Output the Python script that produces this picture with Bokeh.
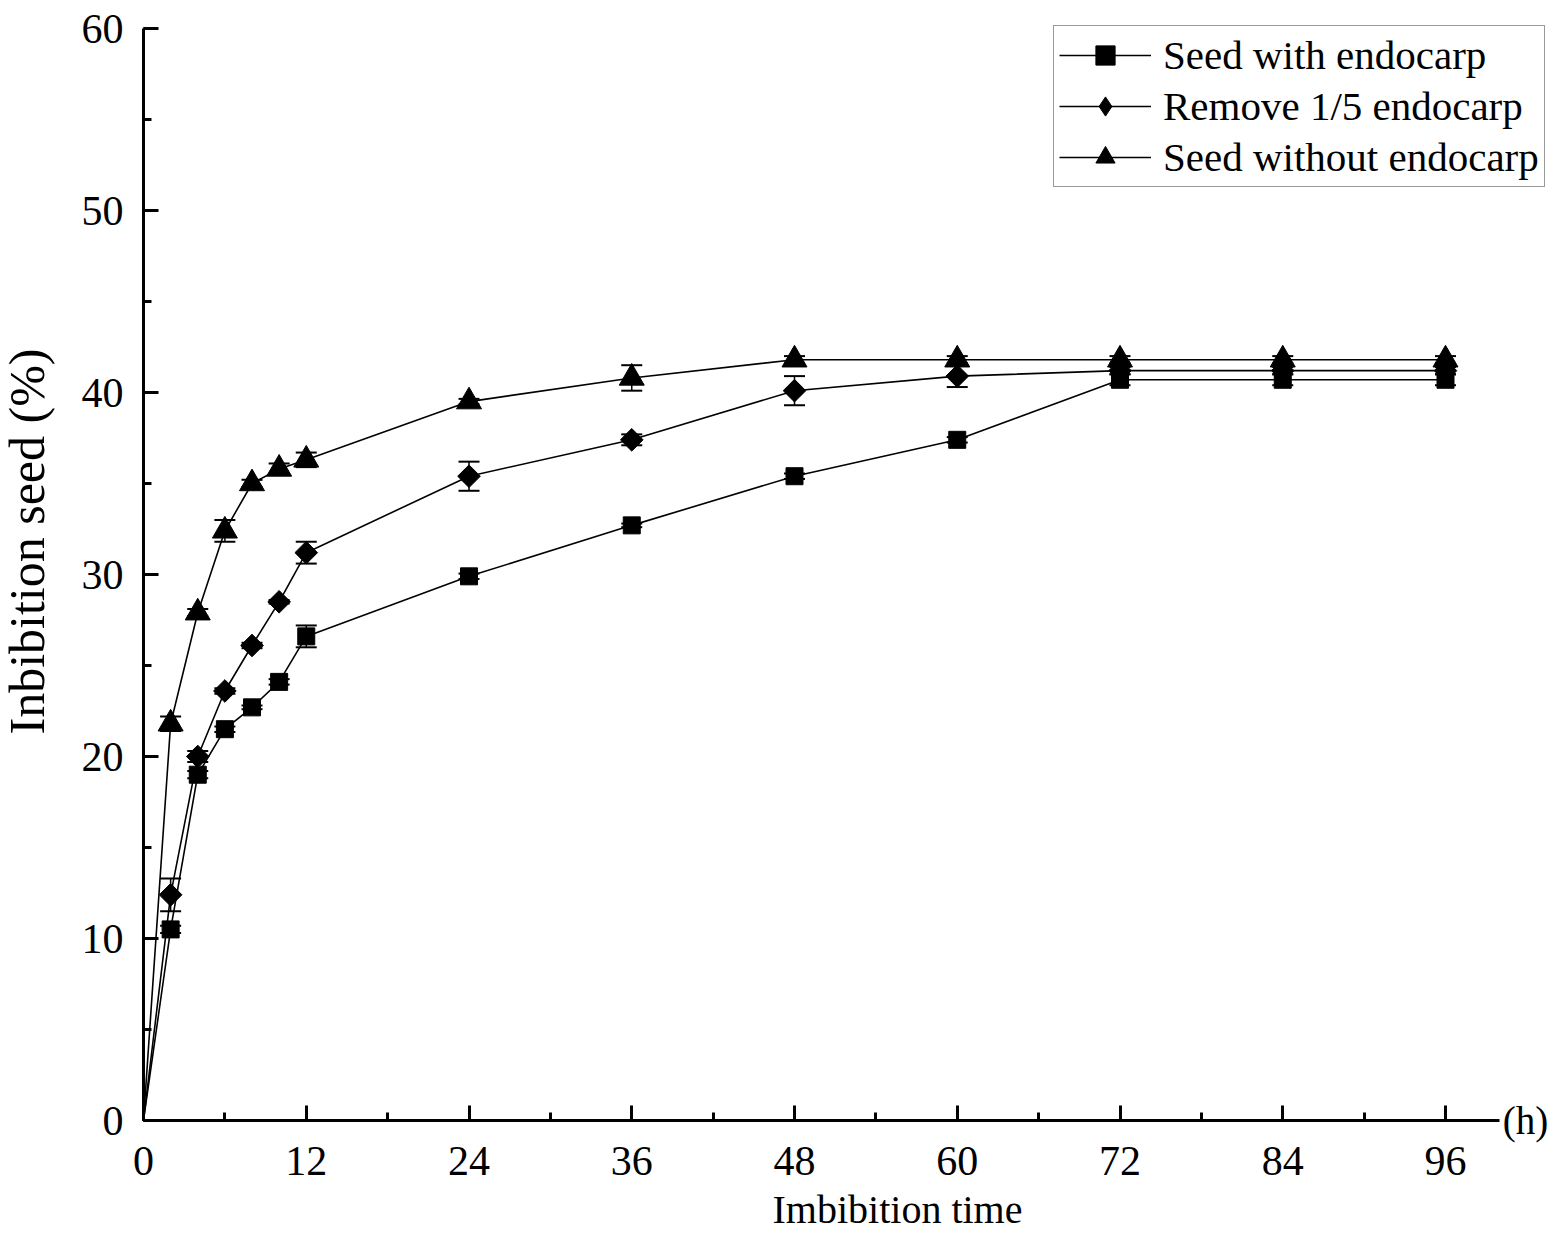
import math
from bokeh.plotting import figure
from bokeh.models import (Range1d, SingleIntervalTicker, Whisker, TeeHead, ColumnDataSource,
                          Legend, LegendItem, Label)
from bokeh.embed import file_html
from bokeh.resources import INLINE

hours = [0, 2, 4, 6, 8, 10, 12, 24, 36, 48, 60, 72, 84, 96]

with_endocarp = [0, 10.5, 19.0, 21.5, 22.7, 24.1, 26.6, 29.9, 32.7, 35.4, 37.4, 40.7, 40.7, 40.7]
with_endocarp_err = [0, 0.2, 0.2, 0.15, 0.1, 0.15, 0.6, 0.15, 0.1, 0.15, 0.15, 0.3, 0.3, 0.3]

remove_fifth = [0, 12.4, 20.0, 23.6, 26.1, 28.5, 31.2, 35.4, 37.4, 40.1, 40.9, 41.2, 41.2, 41.2]
remove_fifth_err = [0, 0.9, 0.3, 0.15, 0.15, 0.1, 0.6, 0.8, 0.3, 0.8, 0.6, 0.2, 0.2, 0.2]

without_endocarp = [0, 21.8, 27.9, 32.4, 35.0, 35.8, 36.3, 39.5, 40.8, 41.8, 41.8, 41.8, 41.8, 41.8]
without_endocarp_err = [0, 0.4, 0.2, 0.6, 0.2, 0.3, 0.4, 0.15, 0.7, 0.2, 0.2, 0.2, 0.2, 0.2]

labels = ["Seed with endocarp", "Remove 1/5 endocarp", "Seed without endocarp"]
x_title = "Imbibition time"
y_title = "Inbibition seed (%)"
x_unit = "(h)"

FONT = "Liberation Serif"

W, H = 1551, 1234
X0_PX, Y0_PX = 143, 1120          # screen position of the origin
PX_X = 1302 / 96                  # pixels per hour
PX_Y = 1092 / 60                  # pixels per percent

def dx(sx):
    return (sx - X0_PX) / PX_X

def dy(sy):
    return (Y0_PX - sy) / PX_Y

p = figure(width=W, height=H, output_backend="svg", toolbar_location=None,
           x_range=Range1d(dx(0), dx(W)), y_range=Range1d(dy(H), dy(0)),
           min_border=0)
p.outline_line_color = None
p.grid.visible = False
p.background_fill_color = "white"
p.border_fill_color = "white"

p.xaxis.ticker = SingleIntervalTicker(interval=12, num_minor_ticks=2)
p.yaxis.ticker = SingleIntervalTicker(interval=10, num_minor_ticks=2)
p.xaxis.bounds = (0, 100)
p.yaxis.bounds = (0, 60)
p.xaxis.fixed_location = 0
p.yaxis.fixed_location = 0

for ax in (p.xaxis, p.yaxis):
    ax.axis_line_width = 3
    ax.axis_line_color = "black"
    ax.major_tick_line_width = 3
    ax.minor_tick_line_width = 3
    ax.major_tick_line_color = "black"
    ax.minor_tick_line_color = "black"
    ax.major_tick_in = 15
    ax.major_tick_out = 0
    ax.minor_tick_in = 8
    ax.minor_tick_out = 0
    ax.major_label_text_font = FONT
    ax.major_label_text_font_size = "42px"
    ax.major_label_text_color = "black"

p.xaxis.major_label_standoff = 26
p.yaxis.major_label_standoff = 20

series = [
    (with_endocarp, with_endocarp_err, "square", 17, 0.0, "square"),
    (remove_fifth, remove_fifth_err, "square", 16, math.pi / 4, "diamond"),
    (without_endocarp, without_endocarp_err, "triangle", 25, 0.0, "triangle"),
]

items = []
for (vals, errs, marker, size, ang, leg_marker), lab in zip(series, labels):
    src = ColumnDataSource(dict(x=hours, y=vals))
    msrc = ColumnDataSource(dict(x=hours[1:], y=vals[1:]))
    wsrc = ColumnDataSource(dict(x=hours[1:],
                                 upper=[v + e for v, e in zip(vals[1:], errs[1:])],
                                 lower=[v - e for v, e in zip(vals[1:], errs[1:])]))
    ln = p.line("x", "y", source=src, line_color="black", line_width=1.6)
    w = Whisker(source=wsrc, base="x", upper="upper", lower="lower",
                line_color="black", line_width=1.5,
                upper_head=TeeHead(size=21, line_color="black", line_width=2),
                lower_head=TeeHead(size=21, line_color="black", line_width=2))
    p.add_layout(w)
    if leg_marker == marker:
        sc = p.scatter("x", "y", source=msrc, marker=marker, size=size, angle=ang,
                       fill_color="black", line_color="black")
        items.append(LegendItem(label=lab, renderers=[ln, sc]))
    else:
        # legend glyph (hidden under the rotated squares in the plot)
        sc_leg = p.scatter("x", "y", source=msrc, marker=leg_marker, size=18,
                           fill_color="black", line_color="black")
        p.scatter("x", "y", source=msrc, marker=marker, size=size, angle=ang,
                  fill_color="black", line_color="black")
        items.append(LegendItem(label=lab, renderers=[ln, sc_leg]))

legend = Legend(items=items, location=(1053, H - 187), margin=0, padding=5,
                spacing=3, glyph_width=92, glyph_height=48, label_height=48,
                label_standoff=12, label_text_font=FONT, label_text_font_size="41px",
                label_text_color="black", border_line_color="#333333",
                border_line_width=1.5, background_fill_color="white",
                background_fill_alpha=1.0)
p.add_layout(legend, "center")

p.add_layout(Label(x=100, y=0, x_offset=3, text=x_unit, text_font=FONT,
                   text_font_size="39px", text_baseline="middle", text_align="left",
                   text_color="black"))

p.add_layout(Label(x=dx(897), y=dy(1209), text=x_title, text_font=FONT,
                   text_font_size="40px", text_baseline="middle", text_align="center",
                   text_color="black"))

p.add_layout(Label(x=dx(26), y=dy(541), text=y_title, text_font=FONT, angle=math.pi / 2,
                   text_font_size="50px", text_baseline="middle", text_align="center",
                   text_color="black"))

open("out.html", "w").write(file_html(p, INLINE))
